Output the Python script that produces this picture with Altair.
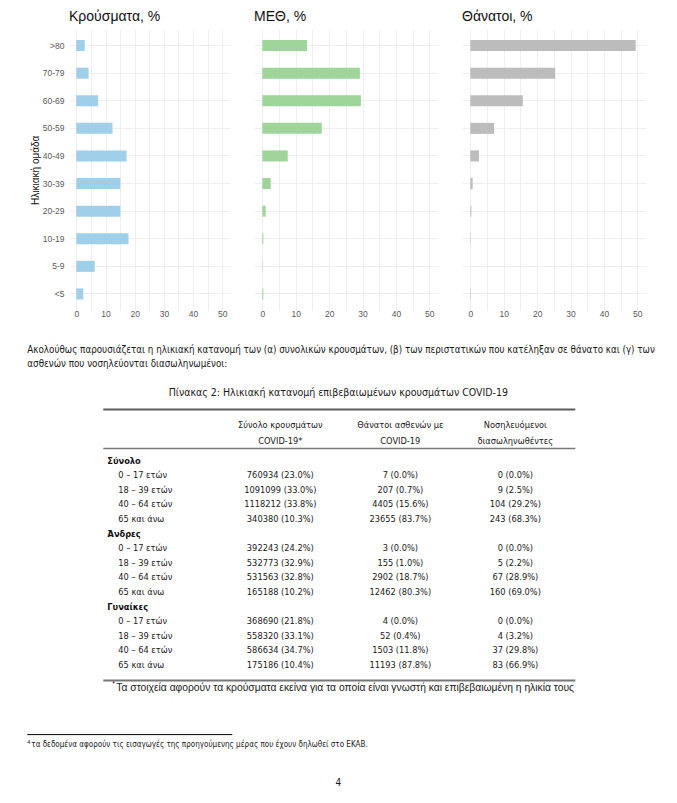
import altair as alt
import pandas as pd

# ---------------- data ----------------
ages = [">80", "70-79", "60-69", "50-59", "40-49", "30-39", "20-29", "10-19", "5-9", "<5"]
cases_pct = [2.9, 4.2, 7.5, 12.4, 17.2, 15.1, 15.1, 17.9, 6.3, 2.4]
icu_pct = [13.4, 29.2, 29.5, 17.8, 7.6, 2.5, 1.0, 0.3, 0.1, 0.3]
deaths_pct = [49.5, 25.4, 15.7, 7.1, 2.6, 0.7, 0.3, 0.1, 0.0, 0.1]

panel_titles = ["Κρούσματα, %", "ΜΕΘ, %", "Θάνατοι, %"]
panel_colors = ["#a0cfea", "#9fd49b", "#bcbcbc"]
x_ticks = [0, 5, 10, 15, 20, 25, 30, 35, 40, 45, 50]

intro_lines = [
    "Ακολούθως παρουσιάζεται η ηλικιακή κατανομή των (α) συνολικών κρουσμάτων, (β) των περιστατικών που κατέληξαν σε θάνατο και (γ) των",
    "ασθενών που νοσηλεύονται διασωληνωμένοι:",
]
table_title = "Πίνακας 2: Ηλικιακή κατανομή επιβεβαιωμένων κρουσμάτων COVID-19"
col_head_1 = ["Σύνολο κρουσμάτων", "COVID-19*"]
col_head_2 = ["Θάνατοι ασθενών με", "COVID-19"]
col_head_3 = ["Νοσηλευόμενοι", "διασωληνωθέντες"]

groups = ["Σύνολο", "Άνδρες", "Γυναίκες"]
age_groups = ["0 – 17 ετών", "18 – 39 ετών", "40 – 64 ετών", "65 και άνω"]
col1 = [
    ["760934 (23.0%)", "1091099 (33.0%)", "1118212 (33.8%)", "340380 (10.3%)"],
    ["392243 (24.2%)", "532773 (32.9%)", "531563 (32.8%)", "165188 (10.2%)"],
    ["368690 (21.8%)", "558320 (33.1%)", "586634 (34.7%)", "175186 (10.4%)"],
]
col2 = [
    ["7 (0.0%)", "207 (0.7%)", "4405 (15.6%)", "23655 (83.7%)"],
    ["3 (0.0%)", "155 (1.0%)", "2902 (18.7%)", "12462 (80.3%)"],
    ["4 (0.0%)", "52 (0.4%)", "1503 (11.8%)", "11193 (87.8%)"],
]
col3 = [
    ["0 (0.0%)", "9 (2.5%)", "104 (29.2%)", "243 (68.3%)"],
    ["0 (0.0%)", "5 (2.2%)", "67 (28.9%)", "160 (69.0%)"],
    ["0 (0.0%)", "4 (3.2%)", "37 (29.8%)", "83 (66.9%)"],
]
table_note = "Τα στοιχεία αφορούν τα κρούσματα εκείνα για τα οποία είναι γνωστή και επιβεβαιωμένη η ηλικία τους"
page_note = "τα δεδομένα αφορούν τις εισαγωγές της προηγούμενης μέρας που έχουν δηλωθεί στο ΕΚΑΒ."
page_number = "4"

# ---------------- fonts / styles ----------------
SANS = "Liberation Sans, Arial, sans-serif"
NARROW = "DejaVu Sans Condensed, sans-serif"
GRID = "#ebebeb"
LABEL = "#5a5a5a"
X0 = 68.7   # page x of the first panel's plot area (origin of the lower part)
Y0 = 321.4  # page y of the lower part's origin


def panel(values, color, title, width, first):
    df = pd.DataFrame({"age": ages, "value": values})
    if first:
        yaxis = alt.Axis(
            title="Ηλικιακή ομάδα", labels=True, ticks=False, domain=False, grid=True,
            gridColor=GRID, gridWidth=0.8, bandPosition=0.5, labelColor=LABEL,
            labelFontSize=8.5, labelFont=SANS, labelPadding=5, titleFont=SANS,
            titleFontSize=10, titleFontWeight="normal", titleColor="#111", titlePadding=2,
        )
    else:
        yaxis = alt.Axis(
            title=None, labels=False, ticks=False, domain=False, grid=True,
            gridColor=GRID, gridWidth=0.8, bandPosition=0.5,
        )
    xaxis = alt.Axis(
        title=None, values=x_ticks, labelExpr="datum.value % 10 == 0 ? datum.label : ''",
        ticks=False, domain=False, grid=True, gridColor=GRID, gridWidth=0.8,
        labelColor=LABEL, labelFontSize=8.5, labelFont=SANS, labelPadding=-1,
    )
    bars = alt.Chart(df).mark_bar(color=color).encode(
        y=alt.Y("age:N", sort=ages, scale=alt.Scale(paddingInner=0.6, paddingOuter=0.4), axis=yaxis),
        x=alt.X("value:Q", scale=alt.Scale(domain=[-2.5, 52.5], nice=False, zero=False), axis=xaxis),
        x2=alt.datum(0),
    )
    layers = [bars]
    if first:
        helper = alt.Chart(pd.DataFrame({"h": [0]})).mark_rule(opacity=0).encode(
            x=alt.value(27 - X0), y=alt.value(0), y2=alt.value(1)
        )
        layers.append(helper)
    return alt.layer(*layers).properties(
        width=width, height=281.5,
        title=alt.Title(title, anchor="start", frame="group", fontSize=14, font=SANS,
                        fontWeight="normal", color="#111", offset=5),
    )


p1 = panel(cases_pct, panel_colors[0], panel_titles[0], 160.6, True)
p2 = panel(icu_pct, panel_colors[1], panel_titles[1], 183.7, False)
p3 = panel(deaths_pct, panel_colors[2], panel_titles[2], 183.7, False)
top = alt.hconcat(p1, p2, p3, spacing=24.0)

# ---------------- lower (text + table) ----------------
one = pd.DataFrame({"k": [0]})


def px(x):
    return x - X0


def py(y):
    return y - Y0


def txt(text, x, y, size, font=NARROW, align="left", weight="normal", color="#1a1a1a"):
    return alt.Chart(one).mark_text(
        text=text, align=align, baseline="middle", fontSize=size, font=font,
        fontWeight=weight, color=color,
    ).encode(x=alt.value(px(x)), y=alt.value(py(y)))


def rule(x1, x2, y, w, color):
    return alt.Chart(one).mark_rule(color=color, strokeWidth=w).encode(
        x=alt.value(px(x1)), x2=alt.value(px(x2)), y=alt.value(py(y))
    )


rows = []
idx = 0
for g, name in enumerate(groups):
    rows.append({"idx": idx, "label": name, "kind": "head", "c1": "", "c2": "", "c3": ""})
    idx += 1
    for a, ag in enumerate(age_groups):
        rows.append({"idx": idx, "label": ag, "kind": "row",
                     "c1": col1[g][a], "c2": col2[g][a], "c3": col3[g][a]})
        idx += 1
tdf = pd.DataFrame(rows)

TS = 9.2
yscale = alt.Scale(domain=[0, 14], range=[py(461), py(665.4)])
tbase = alt.Chart(tdf)
t_head = tbase.transform_filter("datum.kind == 'head'").mark_text(
    align="left", baseline="middle", fontSize=TS, font=NARROW, fontWeight="bold", color="#111"
).encode(y=alt.Y("idx:Q", scale=yscale, axis=None), x=alt.value(px(107)), text="label:N")
t_lab = tbase.transform_filter("datum.kind == 'row'").mark_text(
    align="left", baseline="middle", fontSize=TS, font=NARROW, color="#1a1a1a"
).encode(y=alt.Y("idx:Q", scale=yscale, axis=None), x=alt.value(px(118)), text="label:N")
t_c = [
    tbase.transform_filter("datum.kind == 'row'").mark_text(
        align="center", baseline="middle", fontSize=TS, font=NARROW, color="#1a1a1a"
    ).encode(y=alt.Y("idx:Q", scale=yscale, axis=None), x=alt.value(px(cx)), text=f"{c}:N")
    for c, cx in [("c1", 280), ("c2", 400), ("c3", 515)]
]

lower_layers = [
    txt(intro_lines[0], 27, 350, 9.75),
    txt(intro_lines[1], 27, 364, 9.75),
    txt(table_title, 338, 393, 10.5, align="center"),
    rule(103, 575, 410, 2, "#5c5c5c"),
    txt(col_head_1[0], 280, 425, TS, align="center"),
    txt(col_head_1[1], 280, 441, TS, align="center"),
    txt(col_head_2[0], 400, 425, TS, align="center"),
    txt(col_head_2[1], 400, 441, TS, align="center"),
    txt(col_head_3[0], 515, 425, TS, align="center"),
    txt(col_head_3[1], 515, 441, TS, align="center"),
    rule(103, 575, 449, 1.5, "#777777"),
    t_head, t_lab, *t_c,
    rule(103, 575, 681, 2, "#777777"),
    txt("*", 112, 684, 7, font=SANS),
    txt(table_note, 116, 688, 10.3, font=SANS),
    rule(27, 232, 735, 1, "#000000"),
    txt("4", 27, 742, 5.5),
    txt(page_note, 31, 745, 8.0),
    txt(page_number, 338, 783, 10, align="center"),
]
lower = alt.layer(*lower_layers).properties(width=590, height=450)

chart = alt.vconcat(top, lower, spacing=3).properties(
    padding={"left": 18, "top": 2, "right": 0, "bottom": 0}
).configure_view(strokeWidth=0)

chart.save("out.html", embed_options={"renderer": "svg", "actions": False})
